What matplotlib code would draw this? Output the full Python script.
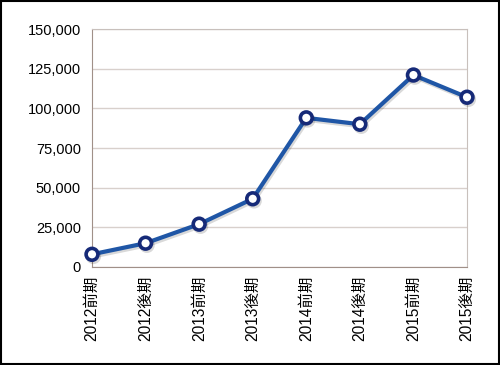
import matplotlib
matplotlib.use('Agg')
import matplotlib.pyplot as plt
import matplotlib.patheffects as pe
from matplotlib.patches import Rectangle
from matplotlib.ticker import FuncFormatter

plt.rcParams['font.family'] = ['Liberation Sans', 'Noto Sans CJK JP', 'DejaVu Sans']

# data
periods = ['2012前期', '2012後期', '2013前期', '2013後期',
           '2014前期', '2014後期', '2015前期', '2015後期']
values = [8000, 15000, 27000, 43000, 94000, 90000, 121000, 107000]

fig = plt.figure(figsize=(5, 3.65), dpi=100)
ax = fig.add_axes([0.184, 0.2685, 0.75, 0.652])

x = list(range(len(periods)))
ax.plot(x, values, color='#1f56a6', lw=3.0, zorder=3, clip_on=False,
        marker='o', ms=8.5, mfc='white', mec='#162a78', mew=2.6,
        path_effects=[pe.SimpleLineShadow(offset=(1, -1.5), alpha=0.15),
                      pe.Normal()])

ax.set_xlim(0, len(periods) - 1)
ax.set_ylim(0, 150000)
ax.set_yticks(range(0, 150001, 25000))
ax.yaxis.set_major_formatter(FuncFormatter(lambda v, p: f'{int(v):,}'))
ax.set_xticks(x)
ax.set_xticklabels(periods, rotation=90, va='top', ha='center')
ax.tick_params(axis='both', length=0, labelsize=10.5, colors='black')
ax.tick_params(axis='x', pad=6, labelsize=11.2)
ax.tick_params(axis='y', pad=8)

ax.grid(axis='y', color='#d8d0cc', lw=1)
ax.set_axisbelow(True)
for side in ['left', 'bottom']:
    ax.spines[side].set_color('#a09088')
for side in ['top', 'right']:
    ax.spines[side].set_color('#c8c0bc')

# outer black frame
fig.patches.append(Rectangle((0.002, 0.003), 0.996, 0.994, transform=fig.transFigure,
                             fill=False, edgecolor='black', lw=1.5))

fig.savefig('out.png', dpi=100, facecolor='white')
